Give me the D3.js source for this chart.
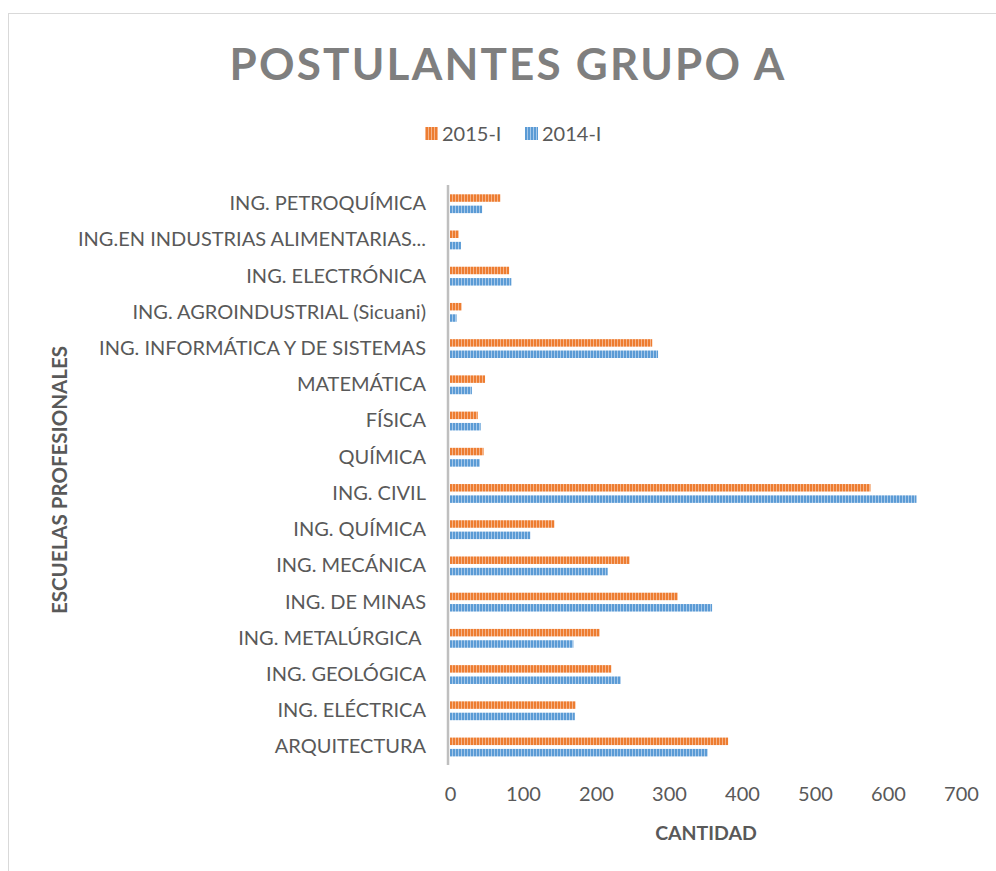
<!DOCTYPE html>
<html><head><meta charset="utf-8">
<script src="https://cdn.jsdelivr.net/npm/d3@7"></script>
<style>
html,body{margin:0;padding:0;background:#fff;}
svg{display:block;}
text{font-family:Lato,"Open Sans",sans-serif;}
</style></head>
<body>
<svg id="chart" width="996" height="871"></svg>
<script>
// Categories, top to bottom as displayed
const categories = [
  "ING. PETROQUÍMICA",
  "ING.EN INDUSTRIAS ALIMENTARIAS...",
  "ING. ELECTRÓNICA",
  "ING. AGROINDUSTRIAL (Sicuani)",
  "ING. INFORMÁTICA Y DE SISTEMAS",
  "MATEMÁTICA",
  "FÍSICA",
  "QUÍMICA",
  "ING. CIVIL",
  "ING. QUÍMICA",
  "ING. MECÁNICA",
  "ING. DE MINAS",
  "ING. METALÚRGICA ",
  "ING. GEOLÓGICA",
  "ING. ELÉCTRICA",
  "ARQUITECTURA"
];
const seriesNames = ["2015-I", "2014-I"];
const values2015 = [69, 12, 81, 16, 277, 48, 38, 46, 576, 143, 246, 312, 205, 221, 172, 381];
const values2014 = [44, 15, 84, 9, 285, 30, 42, 41, 639, 110, 216, 359, 169, 234, 171, 353];
const xTicks = [0, 100, 200, 300, 400, 500, 600, 700];
const title = "POSTULANTES GRUPO A";
const xTitle = "CANTIDAD";
const yTitle = "ESCUELAS PROFESIONALES";

const colors = {"2015-I": "#ED7D31", "2014-I": "#5B9BD5"};
const stripe = {"2015-I": "#F6B48A", "2014-I": "#A5C8EA"};

const svg = d3.select("#chart");

// chart frame (border on left and top, extends beyond the picture)
svg.append("rect").attr("x", 8.5).attr("y", 13.5).attr("width", 1100).attr("height", 1000)
  .attr("fill", "#fff").attr("stroke", "#d9d9d9").attr("stroke-width", 1);

// patterns
const defs = svg.append("defs");
seriesNames.forEach((s, i) => {
  const p = defs.append("pattern").attr("id", "pat" + i).attr("patternUnits", "userSpaceOnUse")
    .attr("width", 3).attr("height", 10);
  p.append("rect").attr("width", 3).attr("height", 10).attr("fill", colors[s]);
  p.append("rect").attr("x", 2).attr("width", 1).attr("height", 10).attr("fill", stripe[s]);
});
const patFor = s => "url(#pat" + seriesNames.indexOf(s) + ")";

const x = d3.scaleLinear().domain([0, 700]).range([450, 961]);
const y0 = d3.scaleBand().domain(categories).range([185.6, 765.1]).paddingInner(0.48).paddingOuter(0.24);
const y1 = d3.scaleBand().domain(seriesNames).range([0, y0.bandwidth()]).paddingInner(0.34);

const data = categories.map((c, i) => ({cat: c, vals: [
  {s: "2015-I", v: values2015[i]}, {s: "2014-I", v: values2014[i]}]}));

const g = svg.append("g");
const groups = g.selectAll("g.grp").data(data).join("g")
  .attr("transform", d => `translate(0,${y0(d.cat)})`);
groups.selectAll("rect").data(d => d.vals).join("rect")
  .attr("x", x(0))
  .attr("y", d => y1(d.s))
  .attr("width", d => x(d.v) - x(0))
  .attr("height", y1.bandwidth())
  .attr("fill", d => patFor(d.s));

// vertical category axis line
svg.append("line").attr("x1", 448).attr("x2", 448).attr("y1", 185).attr("y2", 765)
  .attr("stroke", "#bfbfbf").attr("stroke-width", 2.5);

// category labels via axis
const yAxis = d3.axisLeft(y0).tickSize(0).tickPadding(0);
const ya = svg.append("g").attr("transform", "translate(426,0)").call(yAxis);
ya.select(".domain").remove();
ya.selectAll("text").attr("font-size", 20).attr("fill", "#595959")
  .style("white-space", "pre").attr("font-family", "Lato, sans-serif");

// x axis labels
const xAxis = d3.axisBottom(x).tickValues(xTicks).tickSize(0).tickPadding(0).tickFormat(d3.format("d"));
const xa = svg.append("g").attr("transform", "translate(0,787)").call(xAxis);
xa.select(".domain").remove();
xa.selectAll("text").attr("font-size", 20).attr("fill", "#595959").attr("font-family", "Lato, sans-serif");

// axis titles
svg.append("text").attr("x", 706).attr("y", 840).attr("text-anchor", "middle")
  .attr("font-size", 19.5).attr("font-weight", "bold").attr("fill", "#595959").text(xTitle);
svg.append("text").attr("transform", "translate(67,480) rotate(-90)").attr("text-anchor", "middle")
  .attr("font-size", 20.5).attr("font-weight", "bold").attr("fill", "#595959").text(yTitle);

// title
svg.append("text").attr("x", 508).attr("y", 80).attr("text-anchor", "middle")
  .attr("font-size", 44).attr("font-weight", "bold").attr("fill", "#7f7f7f")
  .attr("letter-spacing", 2.2).text(title);

// legend
const legendItems = [{s: "2015-I", x: 425}, {s: "2014-I", x: 525}];
const lg = svg.append("g");
legendItems.forEach(it => {
  lg.append("rect").attr("x", it.x).attr("y", 127).attr("width", 13).attr("height", 13)
    .attr("fill", patFor(it.s));
  lg.append("text").attr("x", it.x + 17).attr("y", 141).attr("font-size", 20)
    .attr("fill", "#595959").text(it.s);
});
</script>
</body></html>
